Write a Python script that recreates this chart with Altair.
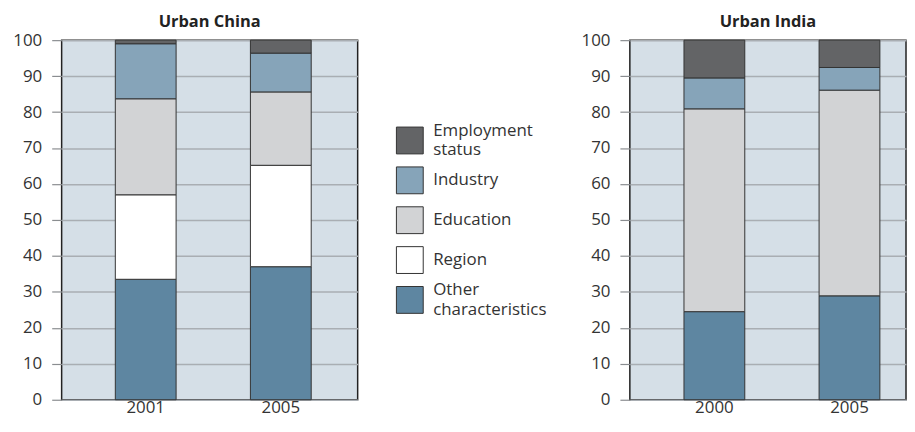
import altair as alt
import pandas as pd

# ---- data ----
categories = ["Other characteristics", "Region", "Education", "Industry", "Employment status"]
colors = ["#5e86a1", "#ffffff", "#d2d3d5", "#86a4b9", "#636466"]
legend_order = ["Employment status", "Industry", "Education", "Region", "Other characteristics"]
legend_labels = ["Employment\nstatus", "Industry", "Education", "Region", "Other\ncharacteristics"]

china_years = ["2001", "2005"]
china_other = [33.5, 37.0]
china_region = [23.5, 28.2]
china_education = [26.7, 20.4]
china_industry = [15.3, 10.8]
china_employment = [1.0, 3.6]

india_years = ["2000", "2005"]
india_other = [24.5, 28.9]
india_region = [0.0, 0.0]
india_education = [56.4, 57.2]
india_industry = [8.6, 6.3]
india_employment = [10.5, 7.6]

y_ticks = list(range(0, 101, 10))

FONT = "Open Sans"
H = 362

color_scale = alt.Scale(domain=categories, range=colors)
plot_view = alt.ViewBackground(fill="#d5dfe7", stroke="#222222", strokeWidth=1.5)


def panel(title, years, series, width, pad_outer, align):
    rows = []
    for ci, cat in enumerate(categories):
        for yi, yr in enumerate(years):
            v = series[ci][yi]
            if v > 0:
                rows.append({"year": yr, "category": cat, "order": ci, "value": v})
    df = pd.DataFrame(rows)
    return alt.Chart(
        df,
        title=alt.Title(title, fontSize=16.5, fontWeight="bold", color="#222222",
                        font=FONT, offset=1, anchor="middle"),
    ).mark_bar(stroke="#333333", strokeWidth=1).encode(
        x=alt.X("year:N", sort=years,
                scale=alt.Scale(paddingInner=0.55, paddingOuter=pad_outer, align=align),
                axis=alt.Axis(title=None, labelAngle=0, ticks=False, domain=False,
                              labelPadding=0, labelFontSize=17, labelColor="#333333",
                              labelFont=FONT)),
        y=alt.Y("value:Q", stack="zero",
                scale=alt.Scale(domain=[0, 100], nice=False),
                axis=alt.Axis(title=None, values=y_ticks, tickSize=10, labelPadding=10,
                              minExtent=53, maxExtent=53, grid=True, domain=False,
                              gridColor="#a9aeb3", gridWidth=1.5,
                              tickColor="#8a8d90", tickWidth=1.2,
                              labelFontSize=17, labelColor="#333333", labelFont=FONT)),
        color=alt.Color("category:N", scale=color_scale, legend=None),
        order=alt.Order("order:Q"),
    ).properties(width=width, height=H, view=plot_view)


china = panel("Urban China", china_years,
              [china_other, china_region, china_education, china_industry, china_employment],
              298, 0.3706, 0.536)
india = panel("Urban India", india_years,
              [india_other, india_region, india_education, india_industry, india_employment],
              278, 0.297, 0.6745)

legend_df = pd.DataFrame({
    "category": legend_order,
    "label": legend_labels,
    "dy": [-10 if "\n" in s else 0 for s in legend_labels],
})
lbase = alt.Chart(legend_df).encode(
    y=alt.Y("category:N", sort=legend_order,
            scale=alt.Scale(type="point", range=[101, 261.5], padding=0), axis=None)
)
swatch = lbase.mark_square(size=729, opacity=1, stroke="#333333", strokeWidth=1).encode(
    x=alt.value(50.5),
    color=alt.Color("category:N", scale=color_scale, legend=None),
)
ltext = lbase.mark_text(align="left", baseline="middle", lineBreak="\n", lineHeight=20,
                        fontSize=17, font=FONT, color="#333333").encode(
    x=alt.value(74),
    yOffset=alt.YOffset("dy:Q", scale=None),
    text="label:N",
)
legend = (swatch + ltext).properties(
    width=217, height=H,
    view=alt.ViewBackground(stroke="transparent", fill="transparent"),
)

chart = alt.hconcat(china, legend, india, spacing=0).properties(
    padding={"left": 0, "top": 3, "right": 0, "bottom": 0},
    background="#ffffff",
)

chart.save("out.html", embed_options={"renderer": "svg", "actions": False})
